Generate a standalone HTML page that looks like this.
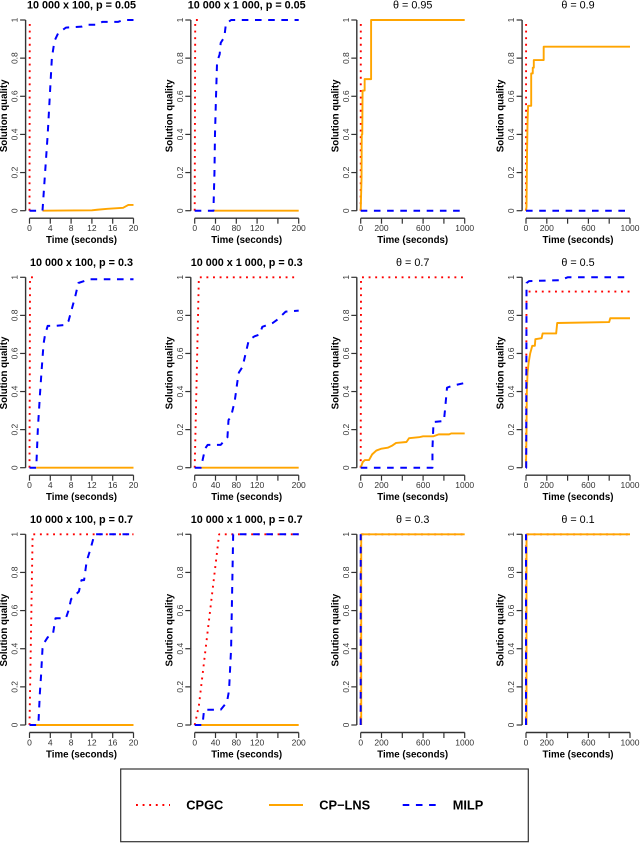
<!DOCTYPE html>
<html>
<head>
<meta charset="utf-8">
<title>Solution quality over time</title>
<style>
html,body{margin:0;padding:0;background:#fff;}
#chart{display:block;width:640px;height:843px;filter:blur(0.35px);font-family:"Liberation Sans",sans-serif;}
</style>
</head>
<body>
<svg id="chart" xmlns="http://www.w3.org/2000/svg" width="640" height="843" viewBox="0 0 640 843"></svg>
<script>
const ticks20 = [0, 4, 8, 12, 16, 20];
const labels20 = ["0", "4", "8", "12", "16", "20"];
const ticks200 = [0, 40, 80, 120, 160, 200];
const labels200 = ["0", "40", "80", "120", "", "200"];
const ticks1000 = [0, 200, 400, 600, 800, 1000];
const labels1000 = ["0", "200", "", "600", "", "1000"];
const yTicks = [0, 0.2, 0.4, 0.6, 0.8, 1];
const yLabels = ["0", "0.2", "0.4", "0.6", "0.8", "1"];

const p1Cpgc = [[0, 0], [0.05, 1]];
const p1Lns = [[2.5, 0], [12, 0.002], [13, 0.005], [15, 0.01], [18, 0.015], [19, 0.03], [20, 0.03]];
const p1Milp = [[0, 0], [2.5, 0], [3, 0.2], [3.5, 0.4], [3.9, 0.6], [4.3, 0.8], [4.8, 0.89], [5.5, 0.93], [7, 0.96], [10, 0.965], [11, 0.975], [13, 0.975], [14, 0.99], [17, 0.99], [18, 1], [20, 1]];

const p2Cpgc = [[0, 0], [1, 1], [8, 1]];
const p2Lns = [[36, 0], [200, 0]];
const p2Milp = [[0, 0], [36, 0], [38, 0.2], [39, 0.4], [41, 0.6], [43, 0.78], [48, 0.82], [50, 0.88], [57, 0.91], [60, 0.98], [70, 1], [200, 1]];

const p3Cpgc = [[0, 0], [1, 1]];
const p3Lns = [[0, 0], [8, 0.17], [10, 0.4], [15, 0.4], [18, 0.63], [38, 0.63], [38, 0.69], [100, 0.69], [100, 1], [1000, 1]];
const p3Milp = [[0, 0], [1000, 0]];

const p4Cpgc = [[0, 0], [1, 1]];
const p4Lns = [[0, 0], [5, 0.02], [10, 0.3], [15, 0.47], [20, 0.55], [50, 0.55], [50, 0.72], [65, 0.72], [65, 0.75], [75, 0.75], [75, 0.79], [170, 0.79], [170, 0.86], [1000, 0.86]];
const p4Milp = [[0, 0], [1000, 0]];

const p5Cpgc = [[0, 0], [0.1, 1], [0.8, 1]];
const p5Lns = [[1.3, 0], [20, 0]];
const p5Milp = [[0, 0], [1.3, 0], [1.6, 0.2], [2, 0.38], [2.3, 0.5], [2.7, 0.65], [3, 0.7], [3.5, 0.745], [5, 0.745], [7, 0.75], [7.5, 0.77], [8.2, 0.84], [8.8, 0.9], [9.4, 0.97], [10.5, 0.98], [11.5, 0.99], [20, 0.99]];

const p6Cpgc = [[0, 0], [8, 1], [200, 1]];
const p6Lns = [[12, 0], [200, 0]];
const p6Milp = [[0, 0], [12, 0], [20, 0.1], [25, 0.12], [50, 0.12], [58, 0.145], [63, 0.16], [65, 0.25], [70, 0.27], [77, 0.35], [82, 0.45], [85, 0.5], [92, 0.53], [98, 0.6], [104, 0.67], [115, 0.69], [125, 0.7], [130, 0.74], [150, 0.76], [160, 0.78], [175, 0.82], [200, 0.825]];

const p7Cpgc = [[0, 0], [3, 1], [1000, 1]];
const p7Lns = [[0, 0], [20, 0.03], [40, 0.04], [80, 0.04], [110, 0.07], [150, 0.09], [200, 0.1], [260, 0.105], [300, 0.115], [340, 0.13], [440, 0.135], [465, 0.155], [560, 0.16], [600, 0.165], [700, 0.165], [750, 0.175], [850, 0.175], [870, 0.18], [1000, 0.18]];
const p7Milp = [[0, 0], [690, 0], [690, 0.1], [700, 0.24], [800, 0.245], [810, 0.3], [830, 0.42], [880, 0.43], [1000, 0.445]];

const p8Cpgc = [[0, 0], [5, 0.925], [1000, 0.925]];
const p8Lns = [[0, 0], [5, 0.2], [8, 0.4], [15, 0.5], [25, 0.55], [40, 0.6], [60, 0.64], [85, 0.64], [90, 0.675], [150, 0.68], [160, 0.705], [290, 0.705], [300, 0.76], [800, 0.765], [810, 0.785], [1000, 0.785]];
const p8Milp = [[0, 0], [2, 0], [5, 0.97], [30, 0.98], [330, 0.985], [400, 1], [1000, 1]];

const p9Cpgc = [[0, 0], [0.6, 1], [20, 1]];
const p9Lns = [[1.2, 0], [20, 0]];
const p9Milp = [[0, 0], [1.7, 0], [2, 0.17], [2.2, 0.25], [2.5, 0.4], [2.8, 0.43], [3.5, 0.46], [4.5, 0.475], [5, 0.56], [7, 0.56], [7.5, 0.6], [8, 0.66], [9.5, 0.7], [10, 0.76], [10.5, 0.76], [11, 0.86], [11.7, 0.92], [12.5, 1], [20, 1]];

const p10Cpgc = [[0, 0], [8, 0.1], [47, 1], [200, 1]];
const p10Lns = [[11, 0], [200, 0]];
const p10Milp = [[0, 0], [15, 0], [18, 0.08], [50, 0.08], [62, 0.12], [66, 0.18], [70, 0.4], [72, 0.7], [74, 1], [200, 1]];

const p11Cpgc = [[0, 0], [2, 1], [1000, 1]];
const p11Lns = [[5, 0], [5, 1], [1000, 1]];
const p11Milp = [[0, 0], [0, 1]];

const p12Cpgc = [[0, 0], [2, 1], [1000, 1]];
const p12Lns = [[5, 0], [5, 1], [1000, 1]];
const p12Milp = [[0, 0], [0, 1]];

const panelTitles = [
  "10 000 x 100, p = 0.05", "10 000 x 1 000, p = 0.05", "θ = 0.95", "θ = 0.9",
  "10 000 x 100, p = 0.3", "10 000 x 1 000, p = 0.3", "θ = 0.7", "θ = 0.5",
  "10 000 x 100, p = 0.7", "10 000 x 1 000, p = 0.7", "θ = 0.3", "θ = 0.1"
];
const cpgcSeries = [p1Cpgc, p2Cpgc, p3Cpgc, p4Cpgc, p5Cpgc, p6Cpgc, p7Cpgc, p8Cpgc, p9Cpgc, p10Cpgc, p11Cpgc, p12Cpgc];
const lnsSeries = [p1Lns, p2Lns, p3Lns, p4Lns, p5Lns, p6Lns, p7Lns, p8Lns, p9Lns, p10Lns, p11Lns, p12Lns];
const milpSeries = [p1Milp, p2Milp, p3Milp, p4Milp, p5Milp, p6Milp, p7Milp, p8Milp, p9Milp, p10Milp, p11Milp, p12Milp];
const columnTicks = [ticks20, ticks200, ticks1000, ticks1000];
const columnLabels = [labels20, labels200, labels1000, labels1000];
const legendNames = ["CPGC", "CP−LNS", "MILP"];

const NS = "http://www.w3.org/2000/svg";
const svg = document.getElementById("chart");
const colLeft = [29.5, 194.7, 360.7, 526];
const rowTop = [20, 277.3, 534.3];
const rowBottom = [210.7, 467.7, 725];
const plotW = 104;
const AXIS = "#333";
const TEXT = "#000";
const TICKTEXT = "#333";
const RED = "#ff0000";
const ORANGE = "#ffa500";
const BLUE = "#0000ff";

function make(tag, attrs, parent) {
  const el = document.createElementNS(NS, tag);
  for (const k in attrs) el.setAttribute(k, attrs[k]);
  parent.appendChild(el);
  return el;
}
function seriesStyle(kind) {
  if (kind === "cpgc") return { stroke: RED, "stroke-width": 1.9, "stroke-dasharray": "1.9 4.7" };
  if (kind === "lns") return { stroke: ORANGE, "stroke-width": 1.9 };
  return { stroke: BLUE, "stroke-width": 2, "stroke-dasharray": "6.6 6.6" };
}
function drawSeries(group, kind, values, sx, sy) {
  const pts = values.map(function (v) { return sx(v[0]).toFixed(2) + "," + sy(v[1]).toFixed(2); }).join(" ");
  const line = make("polyline", Object.assign({
    points: pts, fill: "none", "stroke-linejoin": "round"
  }, seriesStyle(kind)), group);
  
  
}

panelTitles.forEach(function (title, i) {
  const col = i % 4;
  const row = Math.floor(i / 4);
  const x0 = colLeft[col];
  const yTop = rowTop[row];
  const yBot = rowBottom[row];
  const ticks = columnTicks[col];
  const labels = columnLabels[col];
  const xMax = ticks[ticks.length - 1];
  const sx = function (v) { return x0 + v / xMax * plotW; };
  const sy = function (v) { return yBot - v * (yBot - yTop); };
  const axisX = x0 - 3.9;
  const axisY = yBot + 7.5;

  const g = make("g", {}, svg);
  
  

  const t = make("text", {
    x: x0 + 52, y: yTop - 11.3, "text-anchor": "middle", "font-size": 10.8,
    "font-weight": col < 2 ? "bold" : "normal", fill: TEXT
  }, g);
  t.textContent = title;
  
  

  const ya = make("line", { x1: axisX, x2: axisX, y1: sy(1), y2: sy(0), stroke: AXIS, "stroke-width": 1.4 }, g);
  
  
  yTicks.forEach(function (v, k) {
    const tick = make("line", { x1: axisX - 5.5, x2: axisX, y1: sy(v), y2: sy(v), stroke: AXIS, "stroke-width": 1.2 }, g);
    
    
    const cx = x0 - 14.8;
    const lab = make("text", {
      x: cx, y: sy(v) + 3, "text-anchor": "middle", "font-size": 8.5, fill: TICKTEXT,
      transform: "rotate(-90 " + cx + " " + sy(v) + ")"
    }, g);
    lab.textContent = yLabels[k];
    
    
  });

  const xa = make("line", { x1: sx(0), x2: sx(xMax), y1: axisY, y2: axisY, stroke: AXIS, "stroke-width": 1.4 }, g);
  
  
  ticks.forEach(function (v, k) {
    const tick = make("line", { x1: sx(v), x2: sx(v), y1: axisY, y2: axisY + 5.5, stroke: AXIS, "stroke-width": 1.2 }, g);
    
    
    if (labels[k]) {
      const lab = make("text", { x: sx(v), y: axisY + 13, "text-anchor": "middle", "font-size": 8.5, fill: TICKTEXT }, g);
      lab.textContent = labels[k];
      
      
    }
  });

  const xt = make("text", { x: x0 + 52, y: axisY + 25, "text-anchor": "middle", "font-size": 9.7, "font-weight": "bold", fill: TEXT }, g);
  xt.textContent = "Time (seconds)";
  
  

  const yc = (yTop + yBot) / 2 + 0.5;
  const ylx = x0 - 25.8;
  const yt = make("text", {
    x: ylx, y: yc + 3.4, "text-anchor": "middle", "font-size": 9.7, "font-weight": "bold", fill: TEXT,
    transform: "rotate(-90 " + ylx + " " + yc + ")"
  }, g);
  yt.textContent = "Solution quality";
  
  

  drawSeries(g, "cpgc", cpgcSeries[i], sx, sy);
  drawSeries(g, "lns", lnsSeries[i], sx, sy);
  drawSeries(g, "milp", milpSeries[i], sx, sy);
});

const legend = make("g", {}, svg);


const legendBox = make("rect", { x: 120.7, y: 769, width: 407.6, height: 72.7, fill: "#fff", stroke: "#333", "stroke-width": 1.2 }, legend);


const legendKinds = ["cpgc", "lns", "milp"];
const legendLineX = [136, 269, 402.7];
const legendTextX = [186.3, 319.3, 452.7];
legendKinds.forEach(function (kind, i) {
  const ln = make("line", Object.assign({
    x1: legendLineX[i], x2: legendLineX[i] + 34, y1: 805, y2: 805
  }, seriesStyle(kind)), legend);
  
  
  const tx = make("text", { x: legendTextX[i], y: 809.5, "font-size": 12.8, "font-weight": "bold", fill: TEXT }, legend);
  tx.textContent = legendNames[i];
  
  
});
</script>
</body>
</html>
